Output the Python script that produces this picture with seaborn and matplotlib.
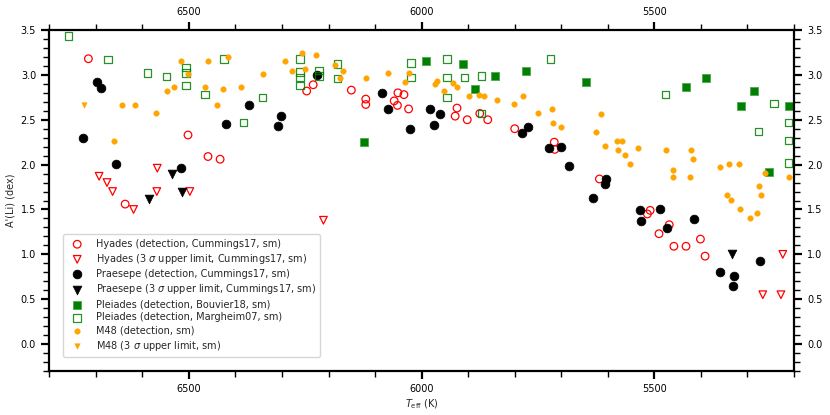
import numpy as np
import matplotlib
matplotlib.use("Agg")
import matplotlib.pyplot as plt
import seaborn as sns
from matplotlib.ticker import MultipleLocator

# ---------------- data ----------------
hy_det_T = [6716, 6502, 6459, 6433, 6637, 6247, 6233, 6151, 6120, 6120, 6059, 6052, 6051, 6038, 6028,
            5924, 5928, 5902, 5875, 5858, 5800, 5715, 5714, 5618,
            5515, 5509, 5468, 5490, 5458, 5432, 5401, 5391]
hy_det_A = [3.18, 2.33, 2.09, 2.06, 1.56, 2.82, 2.89, 2.83, 2.73, 2.67, 2.71, 2.66, 2.80, 2.78, 2.62,
            2.63, 2.54, 2.50, 2.57, 2.50, 2.40, 2.25, 2.17, 1.84,
            1.45, 1.49, 1.33, 1.23, 1.09, 1.09, 1.17, 0.98]

hy_ul_T = [6693, 6676, 6664, 6568, 6569, 6498, 6619, 6211, 5267, 5228, 5224]
hy_ul_A = [1.87, 1.80, 1.70, 1.96, 1.70, 1.70, 1.50, 1.38, 0.55, 0.55, 1.00]

pr_det_T = [6728, 6698, 6689, 6656, 6516, 6421, 6370, 6308, 6303, 6224, 6086, 6072, 6026,
            5981, 5973, 5960, 5784, 5771, 5726, 5701, 5684, 5604, 5607, 5631,
            5531, 5529, 5488, 5472, 5414, 5358, 5328, 5330, 5272]
pr_det_A = [2.30, 2.92, 2.85, 2.01, 1.96, 2.45, 2.66, 2.43, 2.54, 3.00, 2.80, 2.62, 2.40,
            2.62, 2.44, 2.56, 2.35, 2.42, 2.18, 2.20, 1.99, 1.84, 1.78, 1.63,
            1.49, 1.37, 1.50, 1.29, 1.39, 0.80, 0.76, 0.65, 0.93]

pr_ul_T = [6536, 6514, 6586, 5334]
pr_ul_A = [1.90, 1.70, 1.62, 1.00]

pl_b_T = [6123, 5990, 5911, 5885, 5842, 5776, 5646, 5431, 5388, 5285, 5313, 5211, 5253]
pl_b_A = [2.25, 3.15, 3.12, 2.84, 2.99, 3.04, 2.92, 2.87, 2.96, 2.82, 2.65, 2.65, 1.92]

pl_m_T = [6759, 6674, 6589, 6548, 6506, 6506, 6506, 6465, 6424, 6383, 6342, 6261, 6261, 6261, 6261,
          6221, 6221, 6181, 6181, 6023, 6023, 5946, 5946, 5946, 5908, 5871, 5871, 5723,
          5476, 5243, 5276, 5212, 5212, 5212]
pl_m_A = [3.43, 3.17, 3.02, 2.98, 3.08, 3.02, 2.88, 2.78, 3.18, 2.47, 2.75, 3.18, 3.03, 2.97, 2.88,
          3.05, 2.99, 3.12, 2.96, 3.13, 2.97, 3.18, 2.97, 2.75, 2.97, 2.99, 2.57, 3.18,
          2.78, 2.68, 2.37, 2.47, 2.27, 2.02]

m48_det_T = [6517, 6460, 6417, 6502, 6466, 6427, 6389, 6533, 6548, 6643, 6616, 6439, 6570, 6660,
             6340, 6294, 6257, 6226, 6278, 6251, 6186, 6170, 6175, 6120, 6073, 6028, 6036,
             5967, 5971, 5953, 5933, 5924, 5898, 5876, 5865, 5839, 5802, 5783, 5751, 5720, 5718,
             5700, 5614, 5625, 5607, 5580, 5569, 5579, 5536, 5562, 5553, 5474, 5421, 5418, 5359,
             5339, 5318, 5459, 5459, 5424, 5263, 5211, 5276, 5270, 5343, 5335, 5315, 5294, 5279]
m48_det_A = [3.16, 3.16, 3.20, 3.01, 2.86, 2.84, 2.86, 2.86, 2.82, 2.66, 2.66, 2.66, 2.58, 2.26,
             3.01, 3.16, 3.24, 3.22, 3.04, 3.07, 3.11, 3.04, 2.96, 2.96, 3.02, 3.02, 2.92,
             2.93, 2.90, 2.82, 2.91, 2.86, 2.76, 2.78, 2.76, 2.72, 2.68, 2.76, 2.57, 2.62, 2.46,
             2.42, 2.56, 2.36, 2.21, 2.26, 2.26, 2.16, 2.18, 2.11, 2.01, 2.16, 2.16, 2.06, 1.97,
             2.01, 2.01, 1.94, 1.86, 1.86, 1.91, 1.86, 1.76, 1.66, 1.66, 1.61, 1.51, 1.41, 1.46]

m48_ul_T = [6725]
m48_ul_A = [2.66]

labels = [
    "Hyades (detection, Cummings17, sm)",
    "Hyades (3 $\\sigma$ upper limit, Cummings17, sm)",
    "Praesepe (detection, Cummings17, sm)",
    "Praesepe (3 $\\sigma$ upper limit, Cummings17, sm)",
    "Pleiades (detection, Bouvier18, sm)",
    "Pleiades (detection, Margheim07, sm)",
    "M48 (detection, sm)",
    "M48 (3 $\\sigma$ upper limit, sm)",
]

# ---------------- plot ----------------
sns.set_style("ticks")
plt.rcParams["font.family"] = ["DejaVu Sans"]
plt.rcParams["font.size"] = 7

fig = plt.figure(figsize=(8.3, 4.15), dpi=100)
ax = fig.add_axes([0.0594, 0.106, 0.8972, 0.8217])

sns.scatterplot(x=hy_det_T, y=hy_det_A, marker="o", s=30, color="red",
                facecolors="none", edgecolor="red", linewidth=0.9, ax=ax, label=labels[0])
sns.scatterplot(x=hy_ul_T, y=hy_ul_A, marker="v", s=30, color="red",
                facecolors="none", edgecolor="red", linewidth=0.9, ax=ax, label=labels[1])
sns.scatterplot(x=pr_det_T, y=pr_det_A, marker="o", s=40, color="black",
                edgecolor="black", linewidth=0.5, ax=ax, label=labels[2])
sns.scatterplot(x=pr_ul_T, y=pr_ul_A, marker="v", s=40, color="black",
                edgecolor="black", linewidth=0.5, ax=ax, label=labels[3])
sns.scatterplot(x=pl_b_T, y=pl_b_A, marker="s", s=30, color="green",
                edgecolor="#4fa84f", linewidth=0.6, ax=ax, label=labels[4])
sns.scatterplot(x=pl_m_T, y=pl_m_A, marker="s", s=30, color="green",
                facecolors="none", edgecolor="green", linewidth=0.9, alpha=0.85, ax=ax, label=labels[5])
sns.scatterplot(x=m48_det_T, y=m48_det_A, marker="o", s=16, color="orange",
                edgecolor="orange", linewidth=0.3, ax=ax, label=labels[6])
sns.scatterplot(x=m48_ul_T, y=m48_ul_A, marker="v", s=16, color="orange",
                edgecolor="orange", linewidth=0.3, ax=ax, label=labels[7])

ax.set_xlim(6800, 5200)
ax.set_ylim(-0.3, 3.5)
ax.xaxis.set_major_locator(MultipleLocator(500))
ax.xaxis.set_minor_locator(MultipleLocator(100))
ax.yaxis.set_major_locator(MultipleLocator(0.5))
ax.yaxis.set_minor_locator(MultipleLocator(0.1))

for sp in ax.spines.values():
    sp.set_visible(True)
    sp.set_linewidth(1.6)
    sp.set_color("black")

ax.tick_params(which="both", direction="out", top=True, right=True,
               labeltop=True, labelright=True, labelsize=7, colors="black")
ax.tick_params(which="major", length=6, width=1.6)
ax.tick_params(which="minor", length=4, width=1.0)

ax.set_xlabel("$T_{\\rm eff}$ (K)", fontsize=7, labelpad=2)
ax.set_ylabel("A'(Li) (dex)", fontsize=7, labelpad=4)

leg = ax.legend(loc="lower left", bbox_to_anchor=(0.012, 0.027), fontsize=7,
                frameon=True, framealpha=0.8, edgecolor="#cccccc",
                labelspacing=0.32, handletextpad=0.9, borderpad=0.45)

fig.savefig("out.png", dpi=100)
